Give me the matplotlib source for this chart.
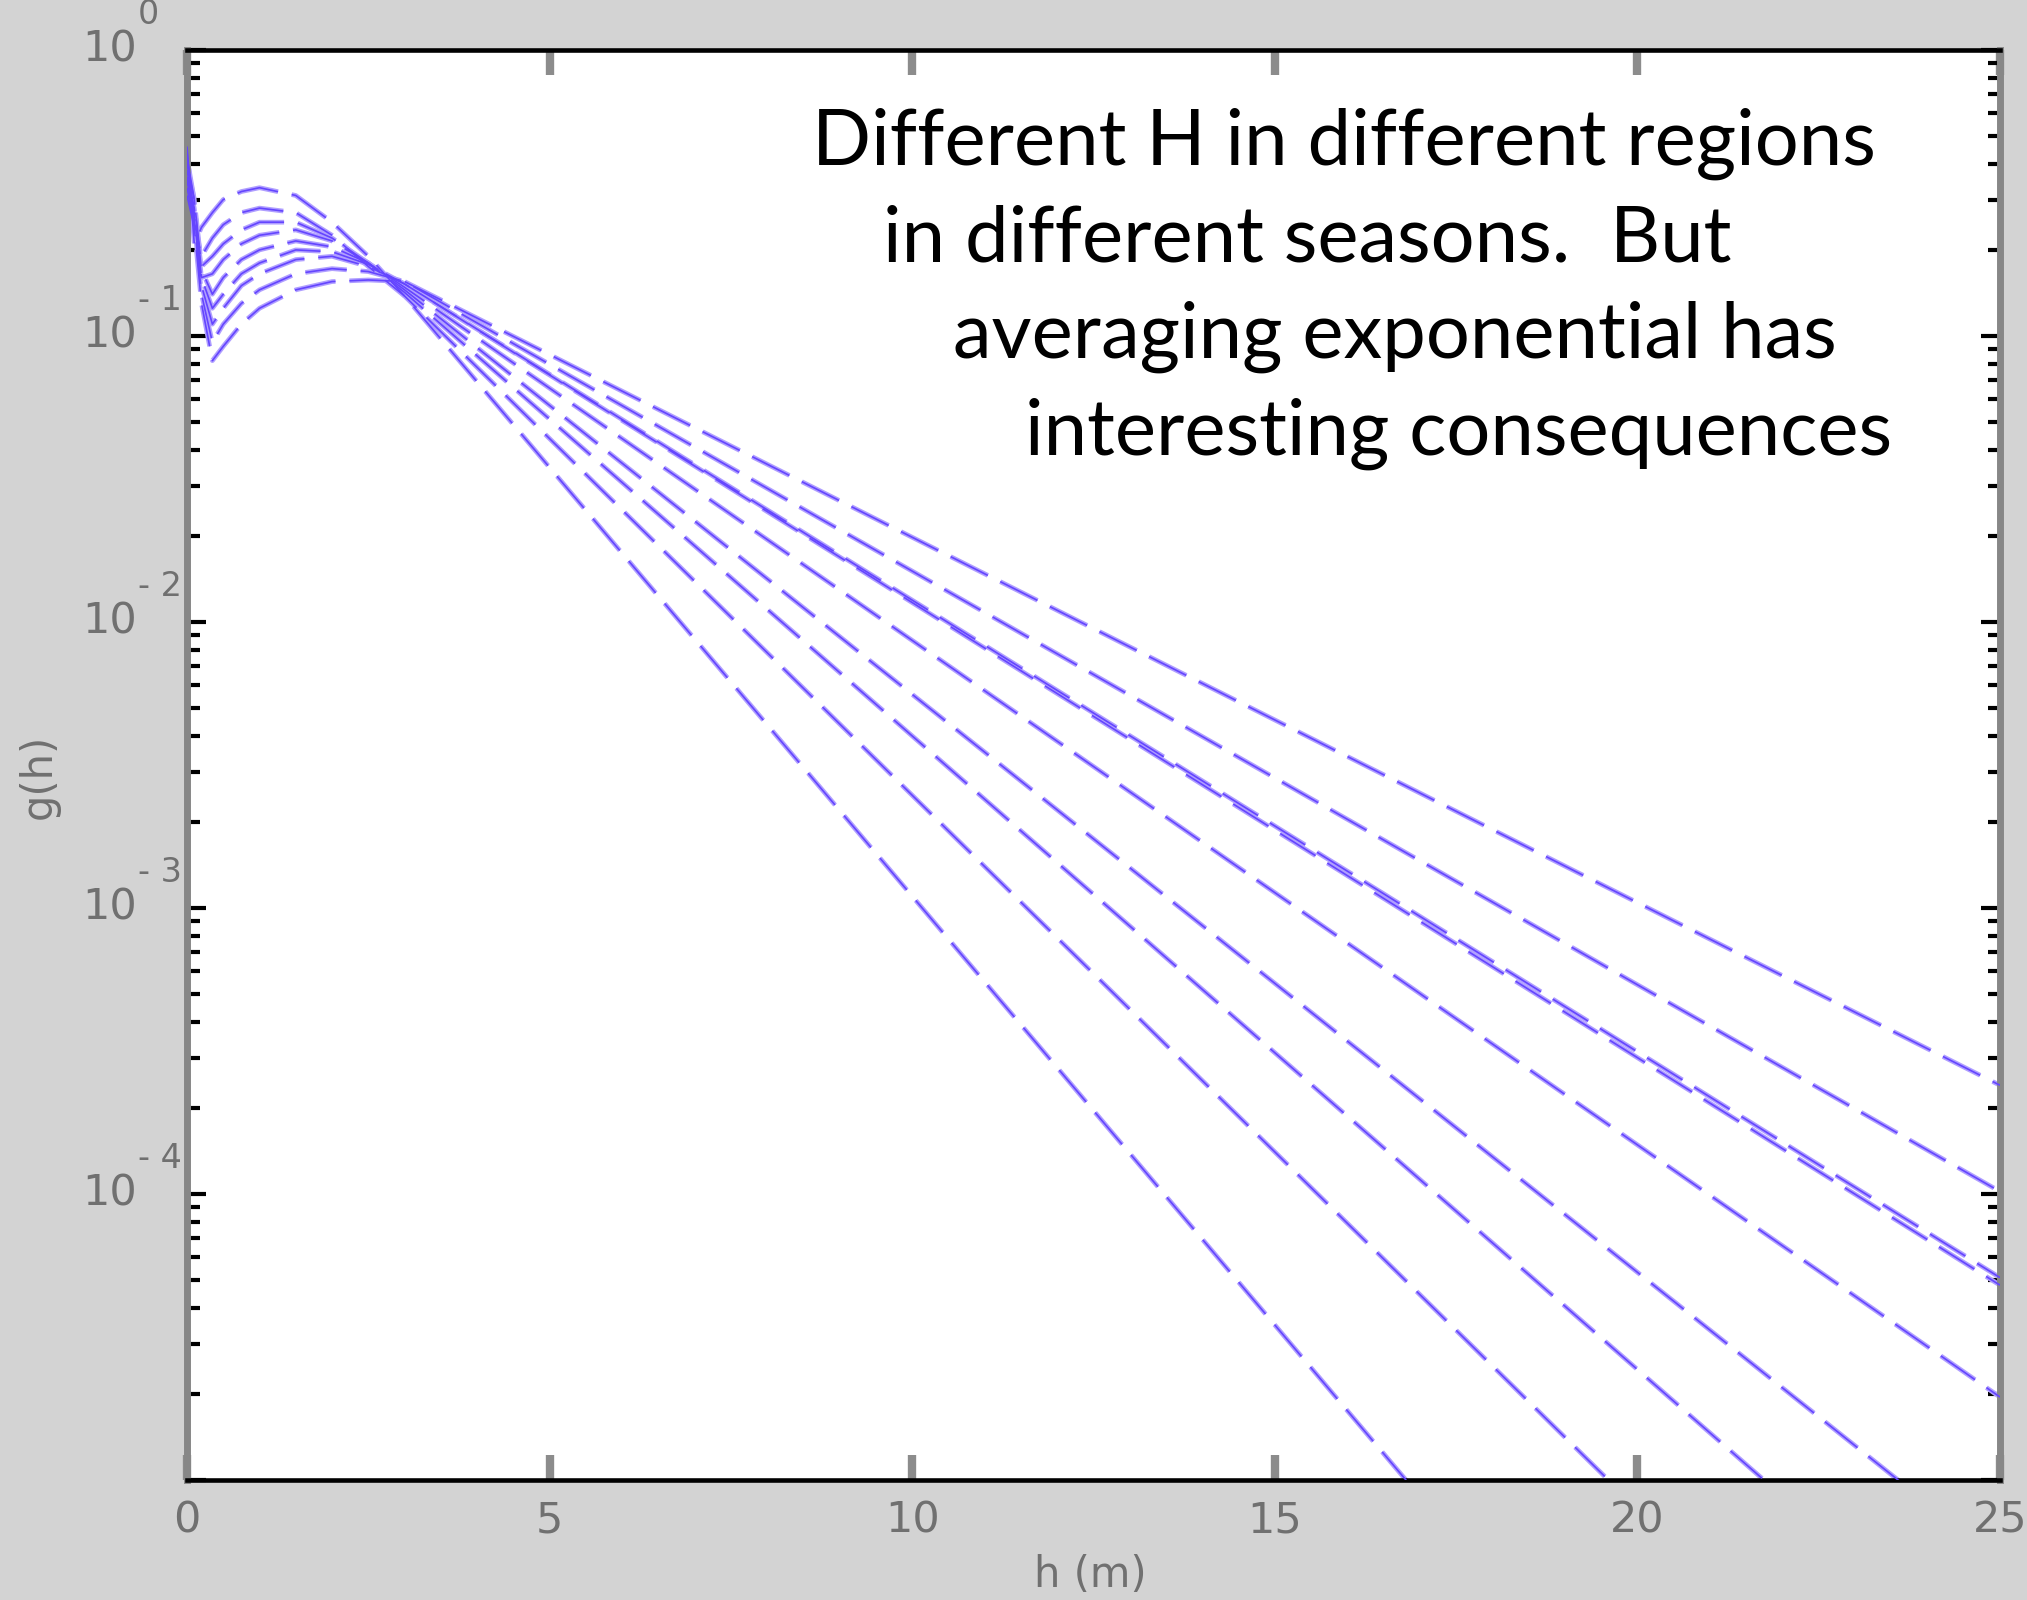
import matplotlib
matplotlib.use("Agg")
import matplotlib.pyplot as plt
from matplotlib.ticker import LogLocator, NullFormatter

# --------- DATA ---------------------------------
h_pts = [0.0, 0.1, 0.2, 0.35, 0.5, 0.75, 1.0, 1.5, 2.0, 2.5, 3.0, 25.0]

g_c1 = [0.46, 0.21, 0.24, 0.27, 0.30, 0.32, 0.33, 0.31, 0.25, 0.19, 0.138, 3.5e-8]
g_c2 = [0.44, 0.25, 0.19, 0.22, 0.245, 0.27, 0.28, 0.27, 0.225, 0.175, 0.138, 4.5e-7]
g_c3 = [0.42, 0.30, 0.175, 0.19, 0.21, 0.235, 0.25, 0.25, 0.22, 0.18, 0.142, 1.9e-6]
g_c4 = [0.40, 0.30, 0.16, 0.165, 0.185, 0.21, 0.225, 0.235, 0.215, 0.18, 0.145, 5.2e-6]
g_c5 = [0.38, 0.28, 0.17, 0.14, 0.16, 0.185, 0.20, 0.215, 0.205, 0.18, 0.148, 1.95e-5]
g_c6 = [0.36, 0.27, 0.16, 0.125, 0.14, 0.165, 0.18, 0.20, 0.197, 0.178, 0.152, 4.8e-5]
g_c7 = [0.35, 0.26, 0.15, 0.11, 0.125, 0.15, 0.165, 0.185, 0.19, 0.175, 0.152, 5.1e-5]
g_c8 = [0.33, 0.25, 0.14, 0.095, 0.11, 0.13, 0.145, 0.165, 0.172, 0.168, 0.155, 1.02e-4]
g_c9 = [0.31, 0.24, 0.13, 0.082, 0.092, 0.11, 0.125, 0.145, 0.155, 0.157, 0.155, 2.4e-4]

curves = [g_c1, g_c2, g_c3, g_c4, g_c5, g_c6, g_c7, g_c8, g_c9]

x_ticks = [0, 5, 10, 15, 20, 25]
y_decades = [1e0, 1e-1, 1e-2, 1e-3, 1e-4]
y_exponents = ["0", "- 1", "- 2", "- 3", "- 4"]

note_lines = ["Different H in different regions",
              "in different seasons.  But",
              "averaging exponential has",
              "interesting consequences"]

# --------- FIGURE ----------
W, H = 2027, 1600
DPI = 100
plt.rcParams["lines.scale_dashes"] = False
fig = plt.figure(figsize=(W / DPI, H / DPI), dpi=DPI, facecolor="#d3d3d3")

ax_l, ax_r, ax_t, ax_b = 187, 2000, 50, 1480
ax = fig.add_axes([ax_l / W, 1 - ax_b / H, (ax_r - ax_l) / W, (ax_b - ax_t) / H])
ax.set_facecolor("white")

dash = (30, 10)
for g in curves:
    ax.plot(h_pts, g, color="#b09fff", lw=3.4, dashes=dash, zorder=2)
    ax.plot(h_pts, g, color="#6445ff", lw=1.2, dashes=dash, zorder=3)

ax.set_yscale("log")
ax.set_xlim(0, 25)
ax.set_ylim(1e-5, 1)

# spines: matlab-ish box
for s in ["top", "bottom"]:
    ax.spines[s].set_color("black")
    ax.spines[s].set_linewidth(3.3)
for s in ["left", "right"]:
    ax.spines[s].set_color("#878787")
    ax.spines[s].set_linewidth(5)

ax.set_xticks(x_ticks)
ax.set_xticklabels([str(v) for v in x_ticks])
ax.tick_params(axis="x", direction="in", length=18, width=6, color="#8c8c8c",
               top=True, bottom=True, labelsize=31, labelcolor="#707070", pad=14)

ax.yaxis.set_major_locator(LogLocator(base=10, numticks=10))
ax.yaxis.set_minor_locator(LogLocator(base=10, subs=range(2, 10), numticks=10))
ax.yaxis.set_minor_formatter(NullFormatter())
ax.tick_params(axis="y", which="major", direction="in", length=14, width=3,
               color="black", left=True, right=True, labelleft=False)
ax.tick_params(axis="y", which="minor", direction="in", length=9, width=3,
               color="black", left=True, right=True)

# y tick labels drawn as "10" plus a raised exponent, like the original
ytr = ax.get_yaxis_transform()
x_base = (137 - ax_l) / (ax_r - ax_l)
x_exp = (138 - ax_l) / (ax_r - ax_l)
for v, e in zip(y_decades, y_exponents):
    ax.text(x_base, v, "10", transform=ytr, ha="right", va="center",
            fontsize=31, color="#707070", clip_on=False)
    ax.text(x_exp, v * 1.33, e, transform=ytr, ha="left", va="center",
            fontsize=24, color="#707070", clip_on=False)

fig.text(1090 / W, 1 - 1575 / H, "h (m)", ha="center", va="center",
         fontsize=30, color="#707070")
fig.text(39 / W, 1 - 776 / H, "g(h)", ha="center", va="center",
         rotation=90, fontsize=30, color="#707070")

# slide note
note_x = [812, 883, 953, 1025]
note_y = [165, 262, 358, 455]
for txt, nx, ny in zip(note_lines, note_x, note_y):
    fig.text(nx / W, 1 - ny / H, txt, ha="left", va="baseline",
             fontsize=56, family="Lato", color="black")

fig.savefig("out.png", dpi=DPI, facecolor=fig.get_facecolor())
